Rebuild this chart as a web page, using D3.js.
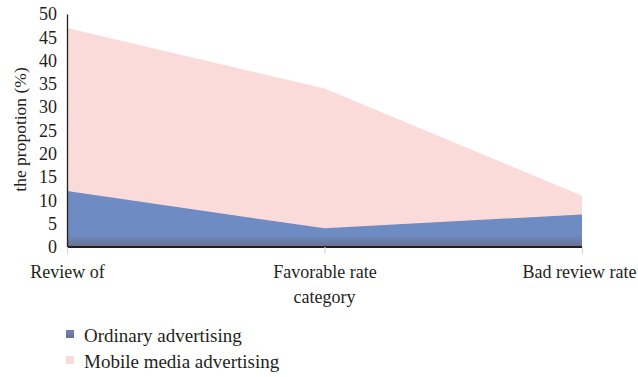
<!DOCTYPE html>
<html>
<head>
<meta charset="utf-8">
<script src="https://cdn.jsdelivr.net/npm/d3@7"></script>
<style>
  html, body { margin: 0; padding: 0; background: #fff; }
  svg { display: block; }
  text { font-family: "Liberation Serif", "DejaVu Serif", serif; fill: #231f20; }
</style>
</head>
<body>
<svg id="chart" width="638" height="377"></svg>
<script>
// Categories and series values (%)
const categories = ["Review of", "Favorable rate", "Bad review rate"];
const ordinary = [12, 4, 7];
const mobile = [47, 34, 11];
const yTicks = [0, 5, 10, 15, 20, 25, 30, 35, 40, 45, 50];
const seriesNames = ["Ordinary advertising", "Mobile media advertising"];

const svg = d3.select("#chart");
const margin = { left: 67, right: 56, top: 14, bottom: 130 };
const W = 638, H = 377;
const FS = 18;

const x = d3.scalePoint().domain(categories).range([margin.left, W - margin.right]);
const y = d3.scaleLinear().domain([0, 50]).range([H - margin.bottom, margin.top]);

// Gradient that darkens the blue area just above the baseline
const defs = svg.append("defs");
const grad = defs.append("linearGradient")
  .attr("id", "blueGrad")
  .attr("gradientUnits", "userSpaceOnUse")
  .attr("x1", 0).attr("x2", 0)
  .attr("y1", y(0) - 12).attr("y2", y(0));
grad.append("stop").attr("offset", "0%").attr("stop-color", "#6e8bc3");
grad.append("stop").attr("offset", "100%").attr("stop-color", "#6a6f8e");

const legGrad = defs.append("linearGradient")
  .attr("id", "legGrad").attr("x1", 0).attr("x2", 0).attr("y1", 0).attr("y2", 1);
legGrad.append("stop").attr("offset", "0%").attr("stop-color", "#6f84b8");
legGrad.append("stop").attr("offset", "100%").attr("stop-color", "#6a6f8e");

const area = vals => d3.area()
  .x((d, i) => x(categories[i]))
  .y0(y(0))
  .y1(d => y(d))(vals);

// Mobile media area behind, ordinary advertising in front
svg.append("path").attr("d", area(mobile)).attr("fill", "#fadbd9");
svg.append("path").attr("d", area(ordinary)).attr("fill", "url(#blueGrad)");

// Y axis
const yAxis = svg.append("g")
  .attr("transform", `translate(${margin.left},0)`)
  .call(d3.axisLeft(y).tickValues(yTicks).tickSize(0).tickPadding(10));
yAxis.select(".domain").attr("stroke", "#231f20").attr("stroke-width", 1.3);
yAxis.selectAll("text").attr("font-size", FS).attr("font-family", "Liberation Serif, serif").attr("fill", "#231f20");

// X axis
const xAxis = svg.append("g")
  .attr("transform", `translate(0,${y(0)})`)
  .call(d3.axisBottom(x).tickSize(7).tickPadding(11));
xAxis.select(".domain").attr("stroke", "#231f20").attr("stroke-width", 2).attr("d", `M${margin.left},0H${W - margin.right}`);
xAxis.selectAll(".tick line").attr("stroke", "#d9d9d9").attr("stroke-width", 1.2);
xAxis.selectAll("text").attr("font-size", FS).attr("font-family", "Liberation Serif, serif").attr("fill", "#231f20");
// keep the last category label inside the right edge
xAxis.selectAll(".tick text").filter(d => d === categories[categories.length - 1]).attr("dx", -3);

// Axis titles
svg.append("text")
  .attr("transform", `translate(26,${(y(0) + y(50)) / 2 - 1}) rotate(-90)`)
  .attr("text-anchor", "middle")
  .attr("font-size", 17.5)
  .text("the propotion (%)");

svg.append("text")
  .attr("x", x(categories[1]))
  .attr("y", 303)
  .attr("text-anchor", "middle")
  .attr("font-size", FS)
  .text("category");

// Legend
const legend = svg.append("g");
const fills = ["url(#legGrad)", "#fadbd9"];
seriesNames.forEach((name, i) => {
  const g = legend.append("g").attr("transform", `translate(66,${330 + i * 26})`);
  g.append("rect").attr("width", 8).attr("height", 8).attr("fill", fills[i]);
  g.append("text").attr("x", 18).attr("y", 12).attr("font-size", 19).text(name);
});
</script>
</body>
</html>
